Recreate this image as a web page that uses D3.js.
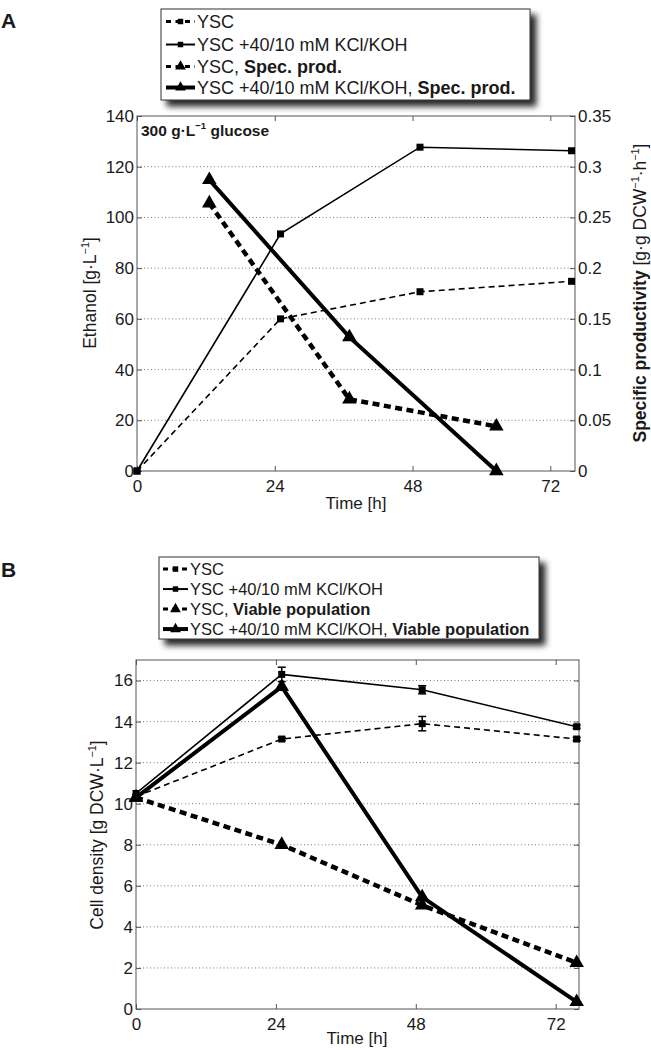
<!DOCTYPE html>
<html><head><meta charset="utf-8">
<script src="https://cdn.jsdelivr.net/npm/d3@7"></script>
<style>
body{margin:0;background:#fff}
text{font-family:"Liberation Sans",Arial,Helvetica,sans-serif;fill:#1a1a1a}
</style></head><body>
<script>
// ---------- data ----------
const timeEthA = [0, 25, 49.3, 75.7];
const ethanolYSC = [0, 60, 70.7, 74.8];
const ethanolKCl = [0, 93.5, 127.7, 126.3];
const timeSpecA = [12.6, 37, 62.6];
const specYSC = [0.264, 0.0707, 0.044];
const specKCl = [0.287, 0.132, 0];
const timeB = [0, 25, 49.1, 75.6];
const cellYSC = [10.35, 13.15, 13.9, 13.15];
const cellYSCerr = [0, 0.08, 0.35, 0.08];
const cellKCl = [10.5, 16.3, 15.55, 13.75];
const cellKClerr = [0, 0.35, 0.2, 0.08];
const viableYSC = [10.3, 8.0, 5.05, 2.25];
const viableKCl = [10.3, 15.7, 5.45, 0.35];
const xTicks = [0, 24, 48, 72];
const ethTicks = [0, 20, 40, 60, 80, 100, 120, 140];
const specTicks = [0, 0.05, 0.1, 0.15, 0.2, 0.25, 0.3, 0.35];
const cellTicks = [0, 2, 4, 6, 8, 10, 12, 14, 16];
const legendLabelsA = [["YSC", ""], ["YSC +40/10 mM KCl/KOH", ""], ["YSC, ", "Spec. prod."], ["YSC +40/10 mM KCl/KOH, ", "Spec. prod."]];
const legendLabelsB = [["YSC", ""], ["YSC +40/10 mM KCl/KOH", ""], ["YSC, ", "Viable population"], ["YSC +40/10 mM KCl/KOH, ", "Viable population"]];

// ---------- styles ----------
const styles = {
  thinDash: {w: 1.6, dash: "6,4", marker: "square"},
  thinSolid: {w: 1.6, dash: null, marker: "square"},
  thickDash: {w: 4.5, dash: "7,4.5", marker: "triangle"},
  thickSolid: {w: 4, dash: null, marker: "triangle"}
};
const legendStyles = [styles.thinDash, styles.thinSolid, styles.thickDash, styles.thickSolid];
const FONT = '"Liberation Sans",Arial,Helvetica,sans-serif';

const svg = d3.select("body").append("svg").attr("width", 651).attr("height", 1050);
const defs = svg.append("defs");
const f = defs.append("filter").attr("id", "sh").attr("x", "-5%").attr("y", "-10%").attr("width", "115%").attr("height", "140%");
f.append("feGaussianBlur").attr("in", "SourceAlpha").attr("stdDeviation", 3).attr("result", "b");
f.append("feOffset").attr("in", "b").attr("dx", 6).attr("dy", 6).attr("result", "o");
f.append("feComponentTransfer").attr("in", "o").attr("result", "c").append("feFuncA").attr("type", "linear").attr("slope", 0.85);
const fm = f.append("feMerge");
fm.append("feMergeNode").attr("in", "c");
fm.append("feMergeNode").attr("in", "SourceGraphic");

function markerPath(kind) {
  return kind === "square" ? d3.symbol(d3.symbolSquare, 49)() : d3.symbol(d3.symbolTriangle, 92)();
}

function drawSeries(g, x, y, xs, ys, st, errs) {
  const pts = xs.map((t, i) => [t, ys[i]]);
  const line = d3.line().x(d => x(d[0])).y(d => y(d[1]));
  g.append("path").attr("d", line(pts)).attr("fill", "none").attr("stroke", "#000")
    .attr("stroke-width", st.w).attr("stroke-dasharray", st.dash).attr("stroke-linejoin", "miter");
  if (errs) {
    pts.forEach((p, i) => {
      if (!errs[i]) return;
      const cx = x(p[0]), y1 = y(p[1] - errs[i]), y2 = y(p[1] + errs[i]);
      g.append("line").attr("x1", cx).attr("x2", cx).attr("y1", y1).attr("y2", y2).attr("stroke", "#000").attr("stroke-width", 1.5);
      [y1, y2].forEach(yy => g.append("line").attr("x1", cx - 4).attr("x2", cx + 4).attr("y1", yy).attr("y2", yy).attr("stroke", "#000").attr("stroke-width", 1.5));
    });
  }
  g.selectAll(null).data(pts).join("path")
    .attr("d", markerPath(st.marker))
    .attr("transform", d => `translate(${x(d[0])},${y(d[1])})`)
    .attr("fill", "#000");
}

function drawFrame(o) {
  const g = svg.append("g");
  const x = d3.scaleLinear().domain(o.xDomain).range([o.left, o.right]);
  const y = d3.scaleLinear().domain(o.yDomain).range([o.bottom, o.top]);
  g.selectAll(null).data(o.grid).join("line")
    .attr("x1", o.left).attr("x2", o.right).attr("y1", d => y(d)).attr("y2", d => y(d))
    .attr("stroke", "#7a7a7a").attr("stroke-width", 1).attr("stroke-dasharray", "1,2.5");
  const styleAxis = sel => {
    sel.attr("font-size", 17).attr("font-family", FONT).style("color", "#1a1a1a");
    sel.select(".domain").remove();
    sel.selectAll(".tick line").attr("stroke", "#555");
  };
  g.append("g").attr("transform", `translate(0,${o.bottom})`)
    .call(d3.axisBottom(x).tickValues(xTicks).tickSize(-5).tickPadding(9)).call(styleAxis);
  g.append("g").attr("transform", `translate(0,${o.top})`)
    .call(d3.axisTop(x).tickValues(xTicks).tickSize(-5).tickFormat("")).call(styleAxis);
  g.append("g").attr("transform", `translate(${o.left},0)`)
    .call(d3.axisLeft(y).tickValues(o.yTicks).tickSize(-5).tickPadding(3).tickFormat(d3.format("~g"))).call(styleAxis);
  let y2 = null;
  if (o.y2Domain) {
    y2 = d3.scaleLinear().domain(o.y2Domain).range([o.bottom, o.top]);
    g.append("g").attr("transform", `translate(${o.right},0)`)
      .call(d3.axisRight(y2).tickValues(o.y2Ticks).tickSize(-5).tickPadding(3).tickFormat(d3.format("~g"))).call(styleAxis);
  } else {
    g.append("g").attr("transform", `translate(${o.right},0)`)
      .call(d3.axisRight(y).tickValues(o.yTicks).tickSize(-5).tickFormat("")).call(styleAxis);
  }
  g.append("rect").attr("x", o.left).attr("y", o.top).attr("width", o.right - o.left).attr("height", o.bottom - o.top)
    .attr("fill", "none").attr("stroke", "#555").attr("stroke-width", 1);
  return {x, y, y2, g};
}

function richText(parent, x, y, parts, size, rotate) {
  const t = parent.append("text").attr("font-size", size);
  if (rotate) t.attr("transform", `translate(${x},${y}) rotate(-90)`).attr("text-anchor", "middle");
  else t.attr("x", x).attr("y", y);
  parts.forEach(p => {
    const s = t.append("tspan").text(p.t);
    if (p.b) s.attr("font-weight", "bold");
    if (p.sup) s.attr("font-size", size * 0.62).attr("dy", -size * 0.42);
    if (p.down) s.attr("dy", size * 0.42);
  });
  return t;
}

function drawLegend(o, labels) {
  const g = svg.append("g");
  g.append("rect").attr("x", o.x).attr("y", o.y).attr("width", o.w).attr("height", o.h)
    .attr("fill", "#fff").attr("stroke", "#333").attr("stroke-width", 1).attr("filter", "url(#sh)");
  labels.forEach((lab, i) => {
    const st = legendStyles[i];
    const by = o.base[i], sy = by - o.fs * 0.36;
    g.append("line").attr("x1", o.sx1).attr("x2", o.sx2).attr("y1", sy).attr("y2", sy)
      .attr("stroke", "#000").attr("stroke-width", st.dash ? 3 : (st.w > 2 ? 4 : 2))
      .attr("stroke-dasharray", st.dash ? "5,4.5" : null);
    g.append("path").attr("d", st.marker === "square" ? d3.symbol(d3.symbolSquare, 30)() : d3.symbol(d3.symbolTriangle, 50)())
      .attr("transform", `translate(${(o.sx1 + o.sx2) / 2},${sy})`).attr("fill", "#000");
    const t = g.append("text").attr("x", o.tx).attr("y", by).attr("font-size", o.fs);
    t.append("tspan").text(lab[0]);
    if (lab[1]) t.append("tspan").attr("font-weight", "bold").text(lab[1]);
  });
}

// ---------- Panel A ----------
const A = drawFrame({left: 137, right: 575, top: 116, bottom: 471, xDomain: [0, 76.3], yDomain: [0, 140],
  yTicks: ethTicks, grid: ethTicks.filter(d => d > 0 && d < 140), y2Domain: [0, 0.35], y2Ticks: specTicks});
drawSeries(A.g, A.x, A.y, timeEthA, ethanolYSC, styles.thinDash);
drawSeries(A.g, A.x, A.y, timeEthA, ethanolKCl, styles.thinSolid);
drawSeries(A.g, A.x, A.y2, timeSpecA, specYSC, styles.thickDash);
drawSeries(A.g, A.x, A.y2, timeSpecA, specKCl, styles.thickSolid);
richText(svg, 141, 136, [{t: "300 g·L", b: 1}, {t: "−1", b: 1, sup: 1}, {t: " glucose", b: 1, down: 1}], 15.5);
richText(svg, 96, 293, [{t: "Ethanol [g·L"}, {t: "−1", sup: 1}, {t: "]", down: 1}], 17.5, true);
richText(svg, 646, 293, [{t: "Specific productivity", b: 1}, {t: " [g·g DCW"}, {t: "−1", sup: 1}, {t: "·h", down: 1}, {t: "−1", sup: 1}, {t: "]", down: 1}], 17.5, true);
svg.append("text").attr("x", 356).attr("y", 509).attr("text-anchor", "middle").attr("font-size", 17).text("Time [h]");
svg.append("text").attr("x", 1).attr("y", 28).attr("font-size", 21).attr("font-weight", "bold").text("A");
drawLegend({x: 161, y: 9, w: 369, h: 91, sx1: 166, sx2: 195, tx: 197, fs: 18, base: [28, 51, 73, 94]}, legendLabelsA);

// ---------- Panel B ----------
const B = drawFrame({left: 136, right: 579, top: 660, bottom: 1009, xDomain: [0, 76], yDomain: [0, 17],
  yTicks: cellTicks, grid: cellTicks.filter(d => d > 0)});
drawSeries(B.g, B.x, B.y, timeB, cellYSC, styles.thinDash, cellYSCerr);
drawSeries(B.g, B.x, B.y, timeB, cellKCl, styles.thinSolid, cellKClerr);
drawSeries(B.g, B.x, B.y, timeB, viableYSC, styles.thickDash);
drawSeries(B.g, B.x, B.y, timeB, viableKCl, styles.thickSolid);
richText(svg, 103, 835, [{t: "Cell density [g DCW·L"}, {t: "−1", sup: 1}, {t: "]", down: 1}], 17.5, true);
svg.append("text").attr("x", 357).attr("y", 1044).attr("text-anchor", "middle").attr("font-size", 17).text("Time [h]");
svg.append("text").attr("x", 1).attr("y", 577).attr("font-size", 21).attr("font-weight", "bold").text("B");
drawLegend({x: 159, y: 557, w: 380, h: 82, sx1: 163, sx2: 188, tx: 190, fs: 16.5, base: [575, 595, 615, 635]}, legendLabelsB);
</script>
</body></html>
